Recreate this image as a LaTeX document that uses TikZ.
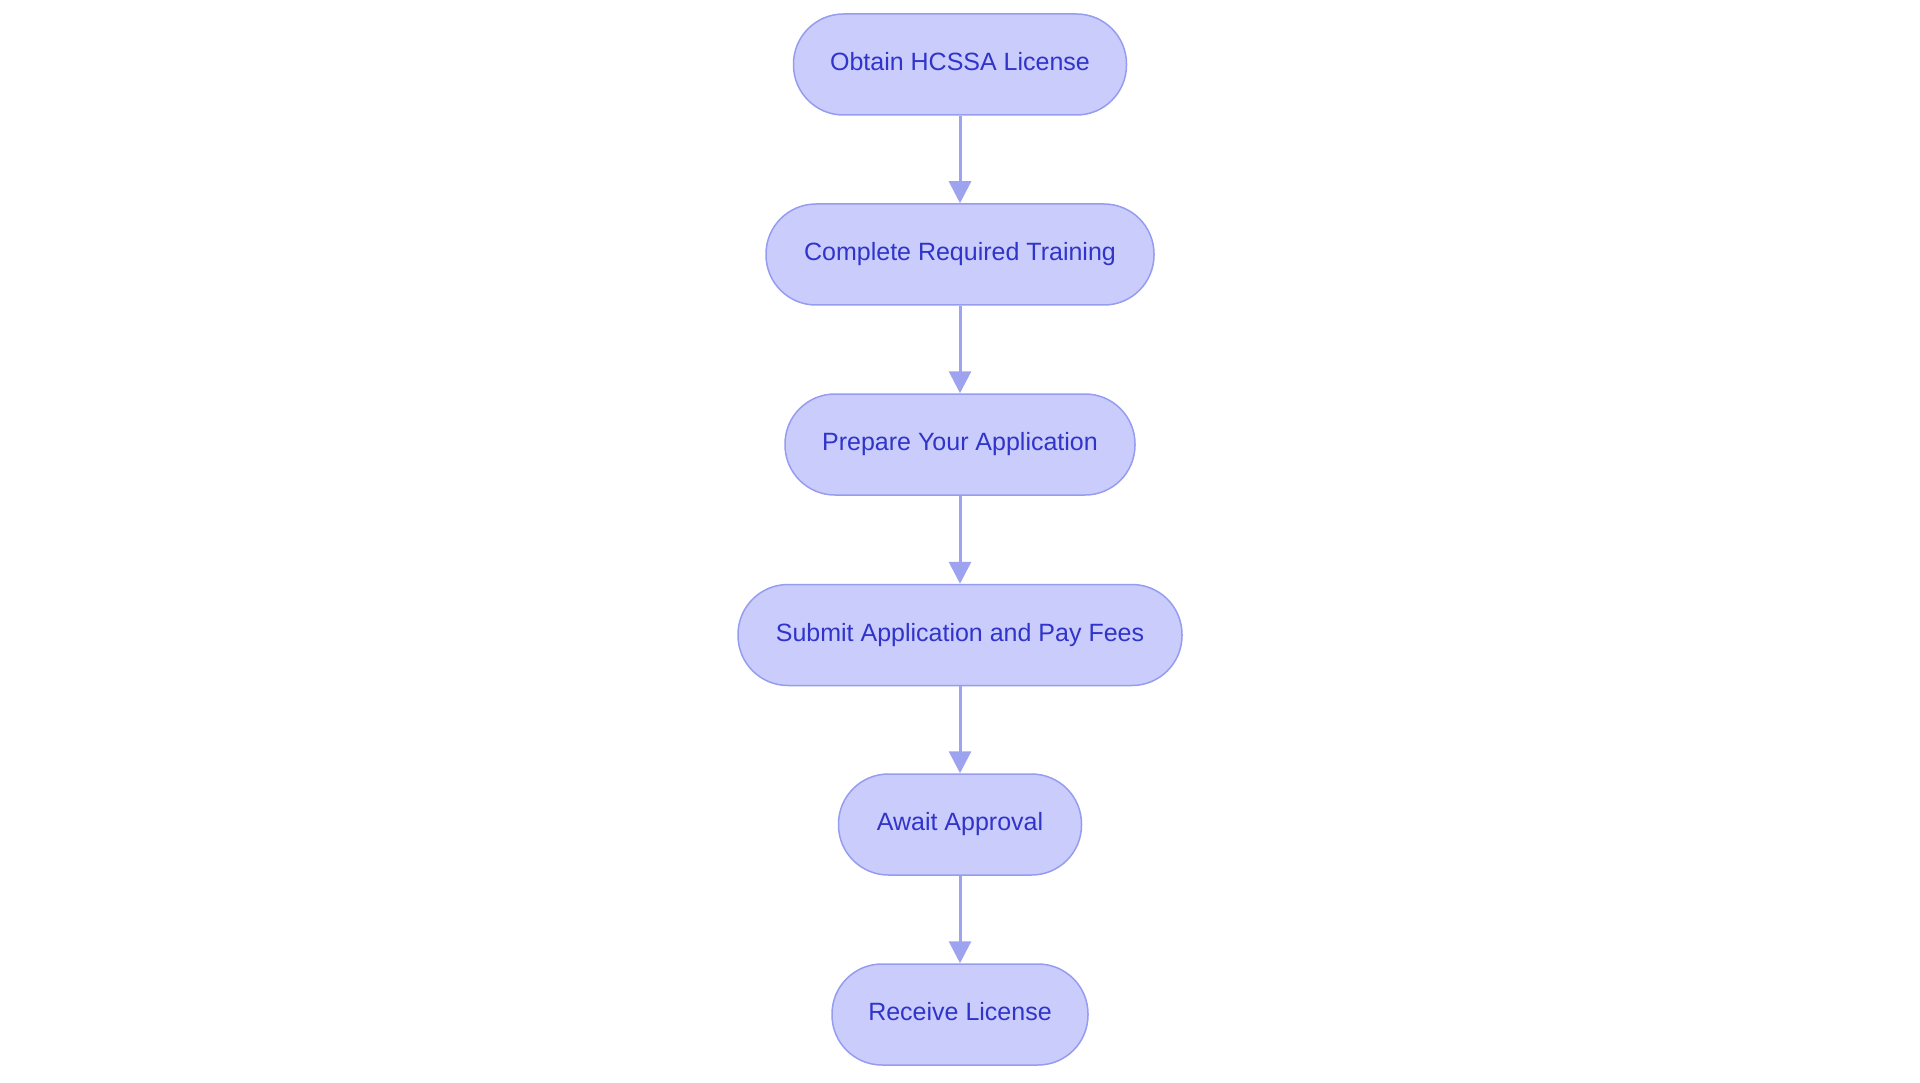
\documentclass[tikz,border=0pt]{standalone}
\usepackage{fontspec}
\setmainfont{Liberation Sans}
\usetikzlibrary{arrows.meta}
\definecolor{nodefill}{RGB}{202,204,252}
\definecolor{nodedraw}{RGB}{150,156,240}
\definecolor{edgecol}{RGB}{158,163,240}
\definecolor{txtcol}{RGB}{48,52,200}
\begin{document}
\begin{tikzpicture}[x=1pt,y=-1pt,
  stepbox/.style={draw=nodedraw,fill=nodefill,line width=1.5pt,rounded corners=50pt,
    minimum height=101pt,inner sep=0pt,text height=18pt,text depth=6pt,
    text=txtcol,font=\fontsize{25}{29}\selectfont},
  flow/.style={draw=edgecol,line width=3pt,-{Triangle[width=22pt,length=22pt]}}]
\useasboundingbox (0,0) rectangle (1920,1083);
\node[stepbox,minimum width=333pt] (a) at (960,64.5) {Obtain HCSSA License};
\node[stepbox,minimum width=388pt] (b) at (960,254.5) {Complete Required Training};
\node[stepbox,minimum width=350pt] (c) at (960,444.5) {Prepare Your Application};
\node[stepbox,minimum width=444pt] (d) at (960,635) {Submit Application and Pay Fees};
\node[stepbox,minimum width=243pt] (e) at (960,824.5) {Await Approval};
\node[stepbox,minimum width=256pt] (f) at (960,1014.5) {Receive License};
\draw[flow] (a) -- (b);
\draw[flow] (b) -- (c);
\draw[flow] (c) -- (d);
\draw[flow] (d) -- (e);
\draw[flow] (e) -- (f);
\end{tikzpicture}
\end{document}
